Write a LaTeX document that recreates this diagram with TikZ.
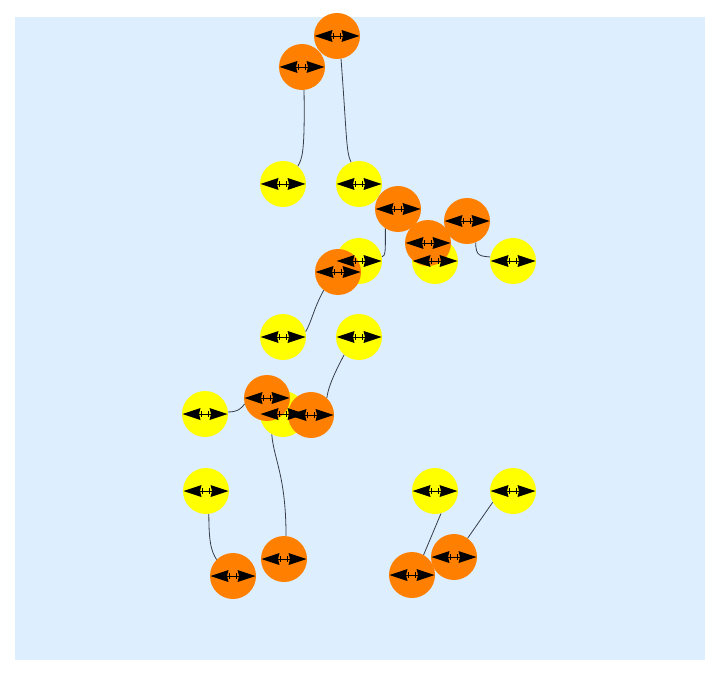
\documentclass[tikz,border=0pt]{standalone}
\definecolor{bgblue}{RGB}{221,238,254}
\definecolor{myorange}{RGB}{255,128,0}
\definecolor{myyellow}{RGB}{255,255,0}
\definecolor{linkcol}{RGB}{55,62,72}
\pgfdeclarelayer{bg}
\pgfdeclarelayer{fg}
\pgfsetlayers{bg,main,fg}
\begin{document}
\begin{tikzpicture}[x=1pt,y=-1pt,
  ball/.style={circle,minimum size=46pt,inner sep=0pt,draw=none},
  orangeball/.style={ball,fill=myorange},
  yellowball/.style={ball,fill=myyellow},
  link/.style={draw=linkcol,line width=0.8pt},
  dblarrow/.pic={
    \fill[black] (-22.5,0) -- (-4.5,-6) -- (-6,0) -- (-4.5,6) -- cycle;
    \fill[black] (22.5,0) -- (4.5,-6) -- (6,0) -- (4.5,6) -- cycle;
    \draw[black,line width=0.9pt] (-6,0) -- (6,0);
    \draw[black,line width=0.7pt] (-3.5,-3) -- (-3.5,3);
    \draw[black,line width=0.7pt] (3.5,-3) -- (3.5,3);
  }]
\useasboundingbox (0,0) rectangle (720,676);
% yellow nodes
\node[yellowball] (y1) at (283,184) {};
\node[yellowball] (y2) at (359,184) {};
\node[yellowball] (y3) at (359,261) {};
\node[yellowball] (y4) at (435,261) {};
\node[yellowball] (y5) at (513,261) {};
\node[yellowball] (y6) at (283,337) {};
\node[yellowball] (y7) at (359,337) {};
\node[yellowball] (y8) at (205,414) {};
\node[yellowball] (y9) at (283,414) {};
\node[yellowball] (y10) at (206,491) {};
\node[yellowball] (y11) at (435,491) {};
\node[yellowball] (y12) at (513,491) {};
% orange nodes
\node[orangeball] (o1) at (337,36) {};
\node[orangeball] (o2) at (302,67) {};
\node[orangeball] (o3) at (398,209) {};
\node[orangeball] (o4) at (467,221) {};
\node[orangeball] (o5) at (428,243) {};
\node[orangeball] (o6) at (338,272) {};
\node[orangeball] (o7) at (267,398) {};
\node[orangeball] (o8) at (311,415) {};
\node[orangeball] (o9) at (284,559) {};
\node[orangeball] (o10) at (233,576) {};
\node[orangeball] (o11) at (412,575) {};
\node[orangeball] (o12) at (454,557) {};
% glyphs on top
\begin{pgfonlayer}{fg}
\foreach \n in {y1,y2,y3,y4,y5,y6,y7,y8,y9,y10,y11,y12,o1,o2,o3,o4,o5,o6,o7,o8,o9,o10,o11,o12}
  \pic at (\n) {dblarrow};
\end{pgfonlayer}
% background and links
\begin{pgfonlayer}{bg}
\fill[bgblue] (15,17) rectangle (705,660);
\path[link] (o2.-85) .. controls +(1,65) and +(4,-8) .. (y1.50);
\path[link] (o1.-80) .. controls +(6,80) and +(-5,-10) .. (y2.110);
\path[link] (o3.-123) .. controls +(0,22) and +(4,-1) .. (y3.10);
\path[link] (o4.-68) .. controls +(0,14) and +(-10,-1) .. (y5.170);
\path[link] (o6.-128) .. controls +(-10,18) and +(6,-10) .. (y6.13);
\path[link] (y7.-130) .. controls +(-5,10) and +(2,-15) .. (o8.47);
\path[link] (y8.5) .. controls +(10,0) and +(-3,4) .. (o7.195);
\path[link] (y9.-119) .. controls +(2,25) and +(0,-60) .. (o9.85);
\path[link] (y10.-83) .. controls +(0,30) and +(-5,-8) .. (o10.135);
\path[link] (y11.-75) -- (o11.60);
\path[link] (y12.209) -- (o12.54);
\end{pgfonlayer}
\end{tikzpicture}
\end{document}
